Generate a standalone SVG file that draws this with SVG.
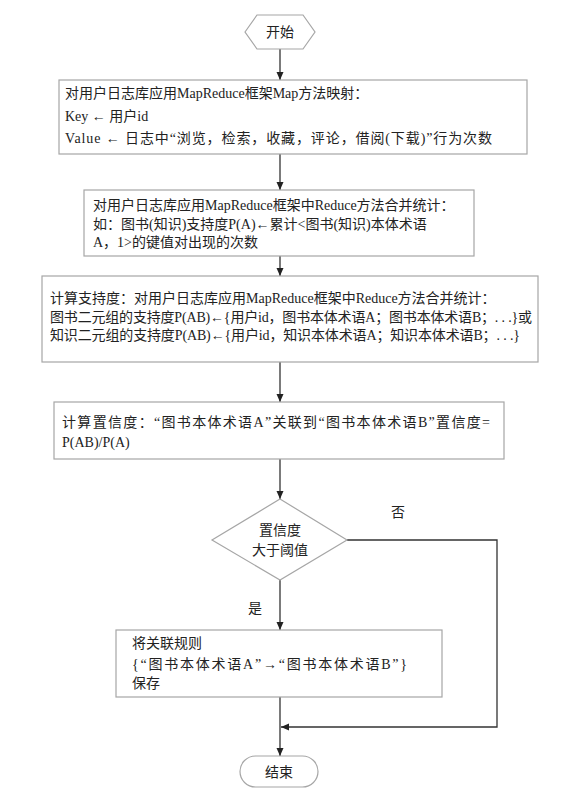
<svg xmlns="http://www.w3.org/2000/svg" width="576" height="798" viewBox="0 0 576 798">
<defs>
<style>
.box{fill:#fff;stroke:#a6a6a6;stroke-width:1.2}
.t{font-family:"Liberation Serif","Noto Sans CJK SC",serif;font-size:14px;fill:#222}
.c{text-anchor:middle}
.con{fill:none;stroke:#333;stroke-width:1.3}
</style>
<marker id="ah" markerUnits="userSpaceOnUse" markerWidth="9" markerHeight="8" refX="8" refY="3.5" orient="auto">
<path d="M0,0 L8,3.5 L0,7 z" fill="#222"/>
</marker>
</defs>
<rect width="576" height="798" fill="#fff"/>
<g id="connectors">
<line class="con" x1="280" y1="49" x2="280" y2="80" marker-end="url(#ah)"/>
<line class="con" x1="280" y1="154" x2="280" y2="190" marker-end="url(#ah)"/>
<line class="con" x1="280" y1="256" x2="280" y2="276" marker-end="url(#ah)"/>
<line class="con" x1="280" y1="362" x2="280" y2="402" marker-end="url(#ah)"/>
<line class="con" x1="280" y1="459" x2="280" y2="499" marker-end="url(#ah)"/>
<line class="con" x1="280" y1="580" x2="280" y2="630" marker-end="url(#ah)"/>
<path class="con" d="M347,540 H497 V727 H281" marker-end="url(#ah)"/>
<line class="con" x1="280" y1="697" x2="280" y2="756" marker-end="url(#ah)"/>
<text class="t" x="398" y="517" text-anchor="middle">否</text>
<text class="t" x="255" y="613" text-anchor="middle">是</text>
</g>
<g id="start">
<polygon class="box" points="245,32 257,15 303,15 315,32 303,49 257,49"/>
<text class="t c" x="280" y="37">开始</text>
</g>
<g id="map">
<rect class="box" x="59" y="80" width="468" height="74"/>
<text class="t" x="65" y="98">对用户日志库应用MapReduce框架Map方法映射：</text>
<text class="t" x="65" y="121">Key ← 用户id</text>
<text class="t" x="65" y="143" textLength="427" lengthAdjust="spacing">Value ← 日志中“浏览，检索，收藏，评论，借阅(下载)”行为次数</text>
</g>
<g id="reduce">
<rect class="box" x="84" y="190" width="390" height="66"/>
<text class="t" x="93" y="210">对用户日志库应用MapReduce框架中Reduce方法合并统计：</text>
<text class="t" x="93" y="229">如：图书(知识)支持度P(A)←累计&lt;图书(知识)本体术语</text>
<text class="t" x="93" y="247">A，1&gt;的键值对出现的次数</text>
</g>
<g id="support">
<rect class="box" x="42" y="276" width="496" height="86"/>
<text class="t" x="50" y="303">计算支持度：对用户日志库应用MapReduce框架中Reduce方法合并统计：</text>
<text class="t" x="50" y="322" textLength="482" lengthAdjust="spacing">图书二元组的支持度P(AB)←{用户id，图书本体术语A；图书本体术语B；. . .}或</text>
<text class="t" x="50" y="340" textLength="470" lengthAdjust="spacing">知识二元组的支持度P(AB)←{用户id，知识本体术语A；知识本体术语B；. . .}</text>
</g>
<g id="confidence">
<rect class="box" x="54" y="402" width="450" height="57"/>
<text class="t" x="62" y="427" textLength="428" lengthAdjust="spacing">计算置信度：“图书本体术语A”关联到“图书本体术语B”置信度=</text>
<text class="t" x="62" y="447">P(AB)/P(A)</text>
</g>
<g id="decision">
<polygon class="box" points="280,499 347,540 280,580 212,540"/>
<text class="t c" x="280" y="535">置信度</text>
<text class="t c" x="280" y="555">大于阈值</text>
</g>
<g id="save">
<rect class="box" x="116" y="630" width="326" height="67"/>
<text class="t" x="132" y="648">将关联规则</text>
<text class="t" x="132" y="669" textLength="275" lengthAdjust="spacing">{“图书本体术语A”→“图书本体术语B”}</text>
<text class="t" x="132" y="688">保存</text>
</g>
<g id="end">
<rect class="box" x="240" y="756" width="78" height="31" rx="15.5"/>
<text class="t c" x="279" y="777">结束</text>
</g>
</svg>
